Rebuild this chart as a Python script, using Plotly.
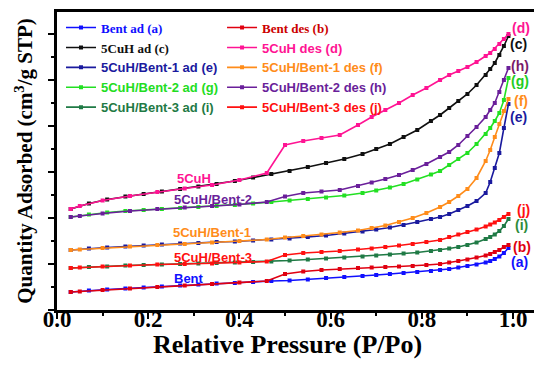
import plotly.graph_objects as go

# Relative pressure grids
p_ad = [0.03, 0.07, 0.11, 0.15, 0.19, 0.23, 0.27, 0.31, 0.35, 0.39, 0.43, 0.47, 0.51, 0.55,
        0.59, 0.63, 0.67, 0.70, 0.73, 0.76, 0.79, 0.82, 0.84, 0.86, 0.88, 0.90, 0.92, 0.94,
        0.95, 0.96, 0.97, 0.98, 0.99]
p_des = [0.99, 0.98, 0.97, 0.96, 0.95, 0.94, 0.92, 0.90, 0.88, 0.86, 0.84, 0.81, 0.78, 0.75,
         0.72, 0.69, 0.66, 0.62, 0.58, 0.54, 0.50, 0.46, 0.40, 0.34, 0.28, 0.22, 0.16, 0.10,
         0.05, 0.03]

# Quantity adsorbed (arbitrary units, offset curves)
bent_ad = [18, 19.5, 20.5, 21.5, 22.5, 23.5, 24.5, 25.5, 26.5, 27, 28, 29, 29.5, 30.5, 32, 33,
           34, 35, 36, 37, 38, 39, 40, 41, 42.5, 44, 45.5, 47.5, 49, 51, 53.5, 57, 62]
bent_des = [65, 63, 60, 58, 56, 54.5, 52.5, 50.5, 49, 47.5, 46, 45, 44, 43.5, 43, 42.5, 42, 41,
            40, 38.5, 36, 29, 27.5, 26, 24.5, 23, 21.5, 20, 18.5, 18]
cuh_ad = [101, 106.5, 110.5, 113.5, 116, 118.5, 121, 123.5, 126, 129, 132.5, 136, 139, 143, 147,
          151, 156, 161, 166, 173, 180, 189, 195, 202, 209, 216, 225, 235, 241, 247, 255, 264, 274]
cuh_des = [276, 271, 266, 261, 257, 254, 248, 243, 239, 235, 230, 222, 215, 207, 200, 193, 185,
           175, 172, 169, 165, 137, 130, 125, 121.5, 118, 114, 109.5, 104, 101]
b1_ad = [60, 61.5, 62.5, 63.5, 64.5, 65.5, 66.5, 67, 68, 68.5, 69.5, 70.5, 71.5, 73, 74.5, 76.5,
         78.5, 80.5, 82.5, 85, 88, 91, 93, 96, 100, 104, 109, 117, 128, 142, 157, 182, 206]
b1_des = [211, 199, 186, 173, 160, 149, 132, 121, 114, 108, 103, 97, 92, 88, 84.5, 82, 79.5, 77.5,
          75.5, 74, 72.5, 70.5, 69, 67.5, 66, 65, 63.5, 62, 60.5, 60]
b2_ad = [93, 95.5, 97.5, 99, 100, 101, 102, 103, 104, 105, 106.5, 108, 109.5, 111, 112.5, 114.5,
         117, 119.5, 122.5, 126, 130.5, 135.5, 139, 145, 151, 157, 166, 176, 182, 189, 197, 210, 232]
b2_des = [242, 230, 218, 207, 200, 193, 183, 174, 165, 158, 153, 146, 140, 135, 131, 127.5, 124,
          120, 118.5, 117, 113.5, 108, 105.5, 104, 102.5, 101, 99, 96.5, 94, 93]
b3_ad = [42, 43, 43.5, 44.5, 45, 45.5, 46, 46.5, 47, 47.5, 48, 48.5, 49.5, 50.5, 51.5, 52.5, 53.5,
         54.5, 55.5, 56.5, 57.5, 59, 60, 61.5, 63, 65, 67.5, 71, 73, 75.5, 79, 84, 91]
b3_des = [96, 93, 90, 87.5, 85.5, 83.5, 80.5, 78, 75.5, 73, 70, 68, 66, 64.5, 63, 61.5, 60.5, 59,
          58, 57, 55, 48.5, 47.5, 46.5, 46, 45.5, 44.5, 43.5, 42.5, 42]

series_names = ["Bent ad (a)", "Bent des (b)", "5CuH ad (c)", "5CuH des (d)",
                "5CuH/Bent-1 ad (e)", "5CuH/Bent-1 des (f)", "5CuH/Bent-2 ad (g)",
                "5CuH/Bent-2 des (h)", "5CuH/Bent-3 ad (i)", "5CuH/Bent-3 des (j)"]
series_y = [bent_ad, bent_des, cuh_ad, cuh_des, b1_ad, b1_des, b2_ad, b2_des, b3_ad, b3_des]
series_colors = ["#1010ff", "#e00010", "#101010", "#ff1493", "#1a1a9e",
                 "#ff8c1a", "#22e022", "#6a1f9a", "#1f7a45", "#ff1010"]
legend_text_colors = ["#1010ff", "#cc0000", "#101010", "#ff1493", "#1a1a9e",
                      "#ff8c1a", "#22dd22", "#6a1f9a", "#1f7a45", "#ff1010"]
serif_items = [0, 1, 2]

end_labels = ["(a)", "(b)", "(c)", "(d)", "(e)", "(f)", "(g)", "(h)", "(i)", "(j)"]
end_label_x = [1.015, 1.020, 1.013, 1.018, 1.013, 1.018, 1.015, 1.015, 1.018, 1.022]
end_label_y = [48, 63, 266, 282, 193, 209, 229, 244, 85, 100]
end_label_colors = ["#1010ff", "#e00010", "#101010", "#ff1493", "#1a1a9e",
                    "#ff8c1a", "#22cc22", "#7a1a6a", "#2e8b3a", "#ff1010"]

sample_labels = ["5CuH", "5CuH/Bent-2", "5CuH/Bent-1", "5CuH/Bent-3", "Bent"]
sample_x = [0.300, 0.342, 0.340, 0.342, 0.289]
sample_y = [132, 111, 78, 53, 32]
sample_colors = ["#ff1493", "#6a1f9a", "#ff8c1a", "#ff1010", "#1010ff"]

x_ticks = [0.0, 0.2, 0.4, 0.6, 0.8, 1.0]
x_ticktext = ["0.0", "0.2", "0.4", "0.6", "0.8", "1.0"]
x_title = "Relative Pressure (P/Po)"
y_title = "Quantity Adsorbed (cm<sup>3</sup>/g STP)"

fig = go.Figure()
for i, (name, ys, col) in enumerate(zip(series_names, series_y, series_colors)):
    xs = p_ad if i % 2 == 0 else p_des
    fam = "Liberation Serif" if i in serif_items else "Liberation Sans"
    label = f"<span style='color:{legend_text_colors[i]};font-family:{fam}'>{name}</span>"
    fig.add_trace(go.Scatter(
        x=xs, y=ys, mode="lines+markers", name=label,
        line=dict(color=col, width=1.6),
        marker=dict(color=col, size=4, symbol="square"),
        legend="legend" if i % 2 == 0 else "legend2",
    ))

annotations = []
for t, x, y, c in zip(end_labels, end_label_x, end_label_y, end_label_colors):
    annotations.append(dict(x=x, y=y, xref="x", yref="y", text=t, showarrow=False,
                            font=dict(family="Liberation Sans", size=14, color=c, weight="bold")))
for t, x, y, c in zip(sample_labels, sample_x, sample_y, sample_colors):
    annotations.append(dict(x=x, y=y, xref="x", yref="y", text=t, showarrow=False,
                            font=dict(family="Liberation Sans", size=13, color=c, weight="bold")))
annotations.append(dict(x=0.484, y=-0.117, xref="paper", yref="paper", text=x_title,
                        showarrow=False, xanchor="center", yanchor="middle",
                        font=dict(family="Liberation Serif", size=26, color="black", weight="bold")))

legend_common = dict(bgcolor="rgba(0,0,0,0)", borderwidth=0, itemwidth=30,
                     font=dict(family="Liberation Sans", size=13, weight="bold"),
                     xanchor="left", yanchor="top", orientation="v")

fig.update_layout(
    width=534, height=367,
    margin=dict(l=57, r=0, t=12, b=57, pad=0),
    paper_bgcolor="white", plot_bgcolor="white",
    showlegend=True,
    legend=dict(x=0.0084, y=0.998, **legend_common),
    legend2=dict(x=0.346, y=0.998, **legend_common),
    annotations=annotations,
    xaxis=dict(
        range=[0, 1.046], showgrid=False, zeroline=False,
        showline=True, linewidth=2.5, linecolor="black", mirror=True,
        tickmode="array", tickvals=x_ticks, ticktext=x_ticktext,
        ticks="outside", ticklen=6, tickwidth=2, tickcolor="black",
        ticklabelstandoff=-19, tickangle=0,
        minor=dict(dtick=0.1, ticks="outside", ticklen=3, tickwidth=2, tickcolor="black", showgrid=False),
        tickfont=dict(family="Liberation Serif", size=23, color="black", weight="bold"),
    ),
    yaxis=dict(
        range=[0, 298], showgrid=False, zeroline=False,
        showline=True, linewidth=2.5, linecolor="black", mirror=False,
        tickmode="linear", tick0=0, dtick=46, showticklabels=False,
        ticks="outside", ticklen=6, tickwidth=2, tickcolor="black",
        minor=dict(dtick=23, ticks="outside", ticklen=3, tickwidth=2, tickcolor="black", showgrid=False),
        title=dict(text=y_title, standoff=10,
                   font=dict(family="Liberation Serif", size=21, color="black", weight="bold")),
    ),
)

fig.write_html("out.html")
